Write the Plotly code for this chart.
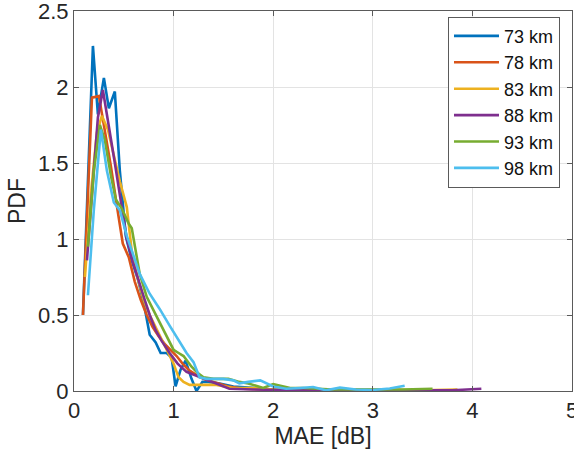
import plotly.graph_objects as go

# Empirical PDFs of the mean absolute error for each link distance
labels = ["73 km", "78 km", "83 km", "88 km", "93 km", "98 km"]
colors = ["#0072BD", "#D95319", "#EDB120", "#7E2F8E", "#77AC30", "#4DBEEE"]

x_73 = [0.09, 0.19, 0.24, 0.30, 0.35, 0.41, 0.46, 0.52, 0.58, 0.64, 0.70, 0.76, 0.82,
        0.87, 0.93, 0.98, 1.02, 1.07, 1.12, 1.18, 1.23, 1.29, 1.35, 1.45, 1.6, 1.8, 2.0,
        2.3, 2.6]
y_73 = [0.50, 2.27, 1.82, 2.06, 1.86, 1.97, 1.45, 1.02, 0.86, 0.74, 0.58, 0.37, 0.32,
        0.25, 0.25, 0.22, 0.03, 0.14, 0.20, 0.08, 0.00, 0.06, 0.06, 0.05, 0.03, 0.02, 0.01,
        0.01, 0.005]

x_78 = [0.09, 0.18, 0.25, 0.31, 0.37, 0.43, 0.49, 0.55, 0.61, 0.67, 0.73, 0.79, 0.85,
        0.91, 0.97, 1.03, 1.09, 1.15, 1.22, 1.30, 1.40, 1.55, 1.7, 1.9, 2.2, 2.6, 3.0, 3.5]
y_78 = [0.50, 1.93, 1.94, 1.72, 1.48, 1.22, 0.97, 0.88, 0.72, 0.60, 0.50, 0.42, 0.36,
        0.31, 0.27, 0.23, 0.18, 0.14, 0.11, 0.08, 0.06, 0.03, 0.015, 0.01, 0.01, 0.005,
        0.005, 0.005]

x_83 = [0.11, 0.17, 0.23, 0.28, 0.34, 0.40, 0.46, 0.53, 0.58, 0.64, 0.70, 0.76, 0.82,
        0.88, 0.94, 1.00, 1.05, 1.10, 1.16, 1.25, 1.43, 1.6, 1.8, 2.0, 2.3, 2.7, 3.1, 3.5,
        3.85]
y_83 = [0.75, 1.30, 1.70, 1.81, 1.72, 1.55, 1.38, 1.21, 0.92, 0.74, 0.60, 0.50, 0.42,
        0.35, 0.26, 0.18, 0.09, 0.06, 0.04, 0.04, 0.04, 0.02, 0.02, 0.01, 0.01, 0.01, 0.01,
        0.005, 0.01]

x_88 = [0.13, 0.19, 0.24, 0.29, 0.35, 0.41, 0.47, 0.53, 0.59, 0.65, 0.71, 0.76, 0.82,
        0.88, 0.96, 1.04, 1.13, 1.23, 1.33, 1.45, 1.56, 1.8, 2.2, 2.6, 3.0, 3.4, 3.8, 4.09]
y_88 = [0.86, 1.40, 1.80, 1.98, 1.75, 1.50, 1.25, 1.00, 0.85, 0.72, 0.60, 0.50, 0.40,
        0.33, 0.25, 0.18, 0.125, 0.10, 0.075, 0.04, 0.015, 0.01, 0.005, 0.005, 0.005,
        0.005, 0.005, 0.015]

x_93 = [0.14, 0.20, 0.26, 0.31, 0.37, 0.42, 0.48, 0.55, 0.58, 0.66, 0.73, 0.83, 0.91,
        1.00, 1.05, 1.10, 1.18, 1.24, 1.30, 1.40, 1.55, 1.66, 1.75, 1.9, 2.0, 2.17, 2.3,
        2.6, 3.0, 3.3, 3.6]
y_93 = [0.95, 1.45, 1.75, 1.65, 1.42, 1.26, 1.20, 1.10, 1.07, 0.77, 0.62, 0.49, 0.38,
        0.27, 0.25, 0.23, 0.16, 0.12, 0.09, 0.08, 0.08, 0.06, 0.05, 0.02, 0.045, 0.02,
        0.02, 0.01, 0.01, 0.01, 0.015]

x_98 = [0.14, 0.20, 0.27, 0.33, 0.40, 0.46, 0.53, 0.60, 0.66, 0.76, 0.86, 0.96, 1.06,
        1.13, 1.20, 1.26, 1.33, 1.40, 1.50, 1.60, 1.66, 1.75, 1.87, 2.0, 2.13, 2.27, 2.4,
        2.53, 2.67, 2.83, 3.0, 3.17, 3.32]
y_98 = [0.63, 1.20, 1.72, 1.45, 1.24, 1.19, 1.02, 0.88, 0.77, 0.64, 0.54, 0.43, 0.32,
        0.25, 0.19, 0.09, 0.08, 0.08, 0.08, 0.07, 0.05, 0.06, 0.07, 0.03, 0.015, 0.02,
        0.026, 0.005, 0.022, 0.01, 0.007, 0.016, 0.035]

xs = [x_73, x_78, x_83, x_88, x_93, x_98]
ys = [y_73, y_78, y_83, y_88, y_93, y_98]

FONT = "Liberation Sans, Arial, sans-serif"

fig = go.Figure()
for name, color, x, y in zip(labels, colors, xs, ys):
    fig.add_trace(go.Scatter(x=x, y=y, mode="lines", name=name,
                             line=dict(color=color, width=2.6)))

axis_style = dict(
    showgrid=True, gridcolor="#e3e3e3", gridwidth=1,
    showline=True, linecolor="#5a5a5a", linewidth=1, mirror="ticks",
    ticks="inside", ticklen=5, tickcolor="#5a5a5a",
    zeroline=False, ticklabeloverflow="allow", automargin=False,
    tickfont=dict(family=FONT, size=22, color="#262626"),
    title_font=dict(family=FONT, size=23, color="#262626"),
)

fig.update_xaxes(range=[0, 5], dtick=1, title_text="MAE [dB]", title_standoff=3, **axis_style)
fig.update_yaxes(range=[0, 2.5], dtick=0.5, title_text="PDF", title_standoff=5, **axis_style)

fig.update_layout(
    width=574, height=458,
    margin=dict(l=74, r=2, t=11, b=67),
    plot_bgcolor="white", paper_bgcolor="white",
    font=dict(family=FONT, color="#262626"),
    legend=dict(
        x=0.751, y=0.985, xanchor="left", yanchor="top",
        bgcolor="white", bordercolor="#5a5a5a", borderwidth=1,
        font=dict(family=FONT, size=18, color="#111111"),
        itemwidth=45, tracegroupgap=0,
    ),
)

fig.write_html("out.html")
